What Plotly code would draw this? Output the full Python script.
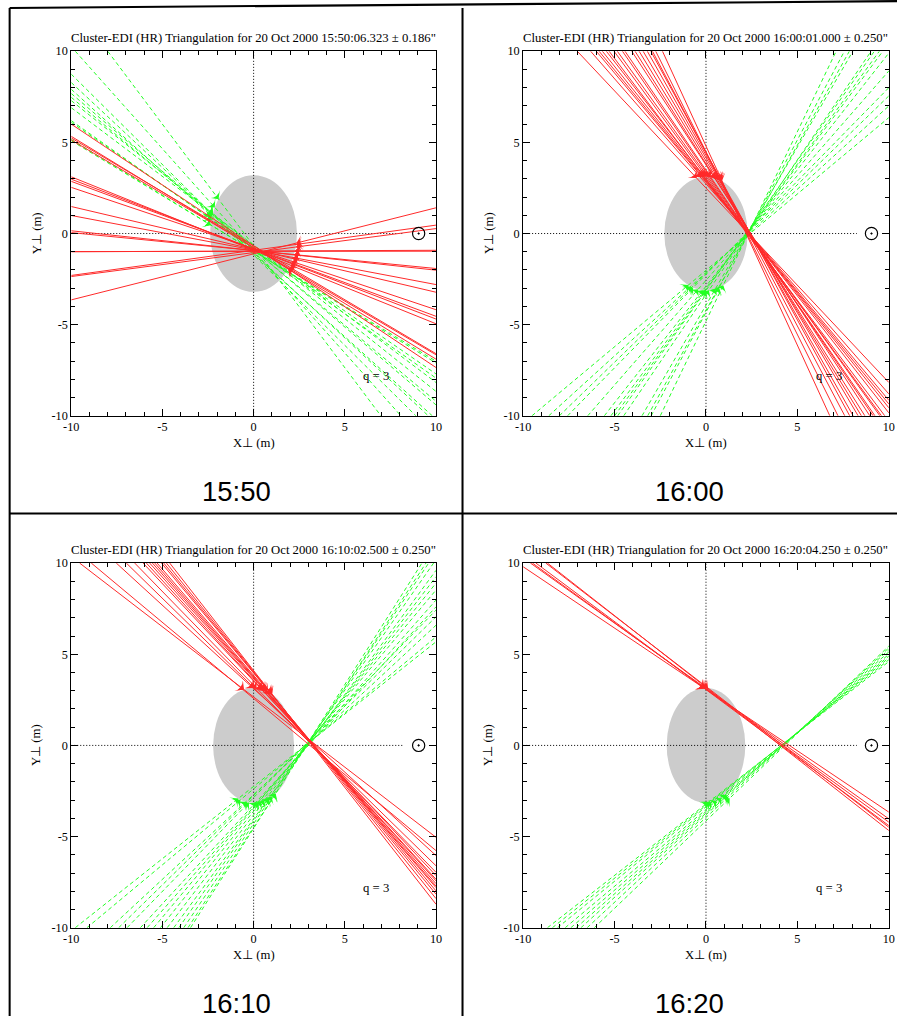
import math
import plotly.graph_objects as go

# The 903x1023 photo covers the page (figure plus the 8 px body margin) scaled
# to fit; reference pixel positions are mapped into figure coordinates below.
PAGE_W, PAGE_H = 903, 1023
BODY_MARGIN = 8
W, H = PAGE_W, PAGE_H
SX = PAGE_W / (W + 2 * BODY_MARGIN)
SY = PAGE_H / (H + 2 * BODY_MARGIN)
K = 1 / SX  # size compensation for fonts / pixel lengths

TITLES = [
    "Cluster-EDI (HR) Triangulation for 20 Oct 2000 15:50:06.323 \u00b1 0.186\"",
    "Cluster-EDI (HR) Triangulation for 20 Oct 2000 16:00:01.000 \u00b1 0.250\"",
    "Cluster-EDI (HR) Triangulation for 20 Oct 2000 16:10:02.500 \u00b1 0.250\"",
    "Cluster-EDI (HR) Triangulation for 20 Oct 2000 16:20:04.250 \u00b1 0.250\"",
]
TIME_LABELS = ["15:50", "16:00", "16:10", "16:20"]
AXIS_TICKS = [-10, -5, 0, 5, 10]
AXIS_TICK_TEXT = ["-10", "-5", "0", "5", "10"]
MINOR_TICKS = [-9, -8, -7, -6, -4, -3, -2, -1, 1, 2, 3, 4, 6, 7, 8, 9]
X_TITLE = "X\u22a5 (m)"
Y_TITLE = "Y\u22a5 (m)"
Q_LABEL = "q = 3"
Q_POS = (6.7, -7.8)
SUN_POS = (9.05, 0.0)
ZERO_LINE_END = 8.25

# spacecraft outline (semi axes, metres)
ELLIPSE_A = [2.38, 2.28, 2.22, 2.15]
ELLIPSE_B = [3.20, 3.12, 3.15, 3.15]

# side of the spacecraft the guns sit on, per panel
RED_GUN_SIDE = ["+x", "+y", "+y", "+y"]
GREEN_GUN_SIDE = ["-x", "-y", "-y", "-y"]

# beams: (x_start, y_start, x_end, y_end) read at the plot edges
P1_RED = [
    (-10, 6.00, 10, -7.35), (-10, 5.33, 10, -6.89), (-10, 5.24, 10, -6.59),
    (-10, 5.13, 10, -6.65), (-10, 3.11, 10, -4.95), (-10, 2.98, 10, -4.69),
    (-10, 2.86, 10, -4.54), (-10, 2.53, 10, -4.18), (-10, 1.48, 10, -3.22),
    (-10, 0.99, 10, -2.80), (-10, 0.15, 10, -2.01), (-10, 0.05, 10, -1.92),
    (-10, -0.99, 10, -0.97), (-10, -1.00, 10, -0.92), (-10, -2.36, 10, 0.27),
    (-10, -2.30, 10, 0.46), (-10, -3.64, 10, 1.41),
]
P1_GREEN = [
    (-8.00, 10, 6.98, -10), (-9.78, 10, 8.08, -10), (-10, 8.74, 8.90, -10),
    (-10, 8.28, 9.58, -10), (-10, 7.91, 9.80, -10), (-10, 7.68, 10, -9.40),
    (-10, 7.47, 10, -9.20), (-10, 7.29, 10, -8.66), (-10, 6.90, 10, -8.17),
    (-10, 6.19, 10, -7.93), (-10, 6.10, 10, -7.70), (-10, 5.16, 10, -7.10),
    (-10, 5.09, 10, -7.00),
]
P2_RED = [
    (-7.04, 10, 10, -8.17), (-6.31, 10, 10, -8.80), (-6.00, 10, 10, -9.15),
    (-5.85, 10, 10, -9.35), (-5.67, 10, 10, -9.56), (-5.45, 10, 10, -9.84),
    (-5.30, 10, 9.78, -10), (-5.03, 10, 9.60, -10), (-4.85, 10, 9.51, -10),
    (-4.57, 10, 9.24, -10), (-4.43, 10, 9.14, -10), (-4.06, 10, 8.96, -10),
    (-3.88, 10, 8.69, -10), (-3.66, 10, 8.50, -10), (-3.44, 10, 8.32, -10),
    (-3.21, 10, 8.05, -10), (-3.02, 10, 7.86, -10), (-2.93, 10, 7.59, -10),
    (-2.75, 10, 7.22, -10), (-2.38, 10, 6.77, -10),
]
P2_GREEN = [
    (-2.50, -10, 7.12, 10), (-3.00, -10, 7.57, 10), (-3.19, -10, 7.84, 10),
    (-3.50, -10, 8.03, 10), (-4.50, -10, 9.03, 10), (-4.83, -10, 9.21, 10),
    (-5.00, -10, 9.48, 10), (-5.20, -10, 9.67, 10), (-5.56, -10, 10, 9.90),
    (-6.47, -10, 10, 8.92), (-7.57, -10, 10, 8.00), (-8.02, -10, 10, 7.55),
    (-8.60, -10, 10, 7.00), (-9.52, -10, 10, 6.36),
]
P3_RED = [
    (-9.54, 10, 10, -5.04), (-8.90, 10, 10, -5.77), (-7.53, 10, 10, -6.04),
    (-6.98, 10, 10, -6.60), (-6.52, 10, 10, -6.96), (-6.06, 10, 10, -7.14),
    (-5.88, 10, 10, -7.34), (-5.70, 10, 10, -7.43), (-5.55, 10, 10, -7.58),
    (-5.42, 10, 10, -7.71), (-5.29, 10, 10, -7.80), (-5.05, 10, 10, -7.98),
    (-4.93, 10, 10, -8.16), (-4.78, 10, 10, -8.40), (-4.60, 10, 10, -8.71),
]
P3_GREEN = [
    (-3.46, -10, 9.23, 10), (-3.60, -10, 9.45, 10), (-3.83, -10, 9.60, 10),
    (-4.10, -10, 9.87, 10), (-4.38, -10, 10, 9.60), (-4.74, -10, 10, 9.25),
    (-5.11, -10, 10, 8.90), (-5.48, -10, 10, 8.52), (-5.84, -10, 10, 7.97),
    (-6.21, -10, 10, 7.60), (-6.94, -10, 10, 7.42), (-7.40, -10, 10, 7.05),
    (-7.86, -10, 10, 6.59), (-9.14, -10, 10, 5.95), (-9.78, -10, 10, 5.68),
]
P4_RED = [
    (-10, 9.80, 10, -3.66), (-9.60, 10, 10, -4.03), (-9.49, 10, 10, -4.21),
    (-9.30, 10, 10, -4.40), (-8.76, 10, 10, -4.49), (-8.67, 10, 10, -4.67),
]
P4_GREEN = [
    (-8.67, -10, 10, 4.60), (-8.40, -10, 10, 4.70), (-8.12, -10, 10, 4.80),
    (-7.70, -10, 10, 4.90), (-7.39, -10, 10, 5.00), (-7.10, -10, 10, 5.13),
    (-6.84, -10, 10, 5.25), (-6.50, -10, 10, 5.35), (-6.11, -10, 10, 5.45),
]

PANEL_RED = [P1_RED, P2_RED, P3_RED, P4_RED]
PANEL_GREEN = [P1_GREEN, P2_GREEN, P3_GREEN, P4_GREEN]

RED = "#ff2a2a"
GREEN = "#22ff22"
SERIF = "Liberation Serif"

# layout geometry, in pixels of the 903x1023 photo
COL_PX = [(71, 435), (522, 887)]
ROW_PX = [(52, 416), (563, 927)]
TIME_LABEL_PX = [(236, 492), (688, 492), (236, 1003), (688, 1003)]
FRAME_PX = [
    (9.5, 2.0, 903, 2.0), (9.5, 2.0, 9.5, 1023), (461.5, 2.0, 461.5, 1023),
    (9.5, 513.5, 903, 513.5),
]


def px(xp):
    return (xp / SX - BODY_MARGIN) / W


def py(yp):
    return 1 - (yp / SY - BODY_MARGIN) / H


def gun_point(beam, a, b, side):
    x0, y0, x1, y1 = beam
    dx, dy = x1 - x0, y1 - y0
    A = (dx / a) ** 2 + (dy / b) ** 2
    B = 2 * (x0 * dx / a ** 2 + y0 * dy / b ** 2)
    C = (x0 / a) ** 2 + (y0 / b) ** 2 - 1
    disc = B * B - 4 * A * C
    if disc < 0:
        ts = [-B / (2 * A)]
    else:
        r = math.sqrt(disc)
        ts = [(-B - r) / (2 * A), (-B + r) / (2 * A)]
    pts = [(x0 + t * dx, y0 + t * dy) for t in ts]
    sign = 1 if side[0] == "+" else -1
    idx = 0 if side[1] == "x" else 1
    gx, gy = max(pts, key=lambda p: sign * p[idx])
    ux, uy = dx, dy
    if sign * (ux if idx == 0 else uy) > 0:
        ux, uy = -ux, -uy
    theta = math.degrees(math.atan2(uy, ux))
    return gx, gy, 90 - theta


fig = go.Figure()
layout_axes = {}
annotations = []
shapes = []

for i in range(4):
    r, c = divmod(i, 2)
    n = i + 1
    xa = "x" if n == 1 else f"x{n}"
    ya = "y" if n == 1 else f"y{n}"
    xd = (px(COL_PX[c][0]), px(COL_PX[c][1]))
    yd = (py(ROW_PX[r][1]), py(ROW_PX[r][0]))
    common = dict(
        range=[-10, 10], tickmode="array", tickvals=AXIS_TICKS, ticktext=AXIS_TICK_TEXT,
        ticks="inside", ticklen=7 * K, tickwidth=1, tickcolor="black",
        showline=True, linecolor="black", linewidth=1, mirror="allticks",
        showgrid=False, zeroline=False, fixedrange=True,
        tickfont=dict(family=SERIF, size=12 * K, color="black"),
        minor=dict(tickmode="array", tickvals=MINOR_TICKS, ticks="inside", ticklen=4 * K,
                   tickwidth=1, tickcolor="black", showgrid=False),
    )
    layout_axes["xaxis" if n == 1 else f"xaxis{n}"] = dict(common, domain=xd, anchor=ya)
    layout_axes["yaxis" if n == 1 else f"yaxis{n}"] = dict(common, domain=yd, anchor=xa)

    a, b = ELLIPSE_A[i], ELLIPSE_B[i]
    shapes.append(dict(type="circle", xref=xa, yref=ya, x0=-a, x1=a, y0=-b, y1=b,
                       fillcolor="#cccccc", line=dict(width=0), layer="below"))

    fig.add_trace(go.Scatter(x=[-10, ZERO_LINE_END, None, 0, 0], y=[0, 0, None, -10, 10],
                             mode="lines", line=dict(color="black", width=1, dash="1px,2px"),
                             xaxis=xa, yaxis=ya, showlegend=False, hoverinfo="skip"))

    for beams, colour, dash, side in (
        (PANEL_GREEN[i], GREEN, "4px,3px", GREEN_GUN_SIDE[i]),
        (PANEL_RED[i], RED, "solid", RED_GUN_SIDE[i]),
    ):
        xs, ys = [], []
        for bm in beams:
            xs += [bm[0], bm[2], None]
            ys += [bm[1], bm[3], None]
        fig.add_trace(go.Scatter(x=xs, y=ys, mode="lines",
                                 line=dict(color=colour, width=1, dash=dash),
                                 xaxis=xa, yaxis=ya, showlegend=False, hoverinfo="skip"))
        guns = [gun_point(bm, a, b, side) for bm in beams]
        fig.add_trace(go.Scatter(x=[g[0] for g in guns], y=[g[1] for g in guns], mode="markers",
                                 marker=dict(symbol="arrow-wide", size=9 * K, color=colour,
                                             angle=[g[2] for g in guns], line=dict(width=0)),
                                 xaxis=xa, yaxis=ya, showlegend=False, hoverinfo="skip"))

    fig.add_trace(go.Scatter(x=[SUN_POS[0]], y=[SUN_POS[1]], mode="markers",
                             marker=dict(symbol="circle-open-dot", size=12 * K, color="black",
                                         line=dict(width=1.2, color="black")),
                             xaxis=xa, yaxis=ya, showlegend=False, hoverinfo="skip"))

    annotations.append(dict(text=Q_LABEL, x=Q_POS[0], y=Q_POS[1], xref=xa, yref=ya,
                            showarrow=False, font=dict(family=SERIF, size=12.5 * K, color="black")))
    annotations.append(dict(text=TITLES[i], x=0.5, y=1, xref=f"{xa} domain", yref=f"{ya} domain",
                            yshift=13 * K, xanchor="center", yanchor="middle", showarrow=False,
                            font=dict(family=SERIF, size=12.5 * K, color="black")))
    annotations.append(dict(text=X_TITLE, x=0.5, y=0, xref=f"{xa} domain", yref=f"{ya} domain",
                            yshift=-27 * K, xanchor="center", yanchor="middle", showarrow=False,
                            font=dict(family=SERIF, size=12.5 * K, color="black")))
    annotations.append(dict(text=Y_TITLE, x=0, y=0.5, xref=f"{xa} domain", yref=f"{ya} domain",
                            xshift=-34 * K, xanchor="center", yanchor="middle", textangle=-90,
                            showarrow=False, font=dict(family=SERIF, size=12.5 * K, color="black")))
    tx, ty = TIME_LABEL_PX[i]
    annotations.append(dict(text=TIME_LABELS[i], x=px(tx), y=py(ty), xref="paper", yref="paper",
                            xanchor="center", yanchor="middle", showarrow=False,
                            font=dict(family="Liberation Sans", size=27 * K, color="black")))

for x0, y0, x1, y1 in FRAME_PX:
    shapes.append(dict(type="line", xref="paper", yref="paper",
                       x0=max(px(x0), 0.001), x1=min(px(x1), 1.0),
                       y0=min(py(y0), 0.999), y1=max(py(y1), 0.0),
                       line=dict(color="black", width=2 * K)))

fig.update_layout(
    width=W, height=H, margin=dict(l=0, r=0, t=0, b=0),
    paper_bgcolor="white", plot_bgcolor="white",
    showlegend=False, annotations=annotations, shapes=shapes, **layout_axes,
)

fig.write_html("out.html")
